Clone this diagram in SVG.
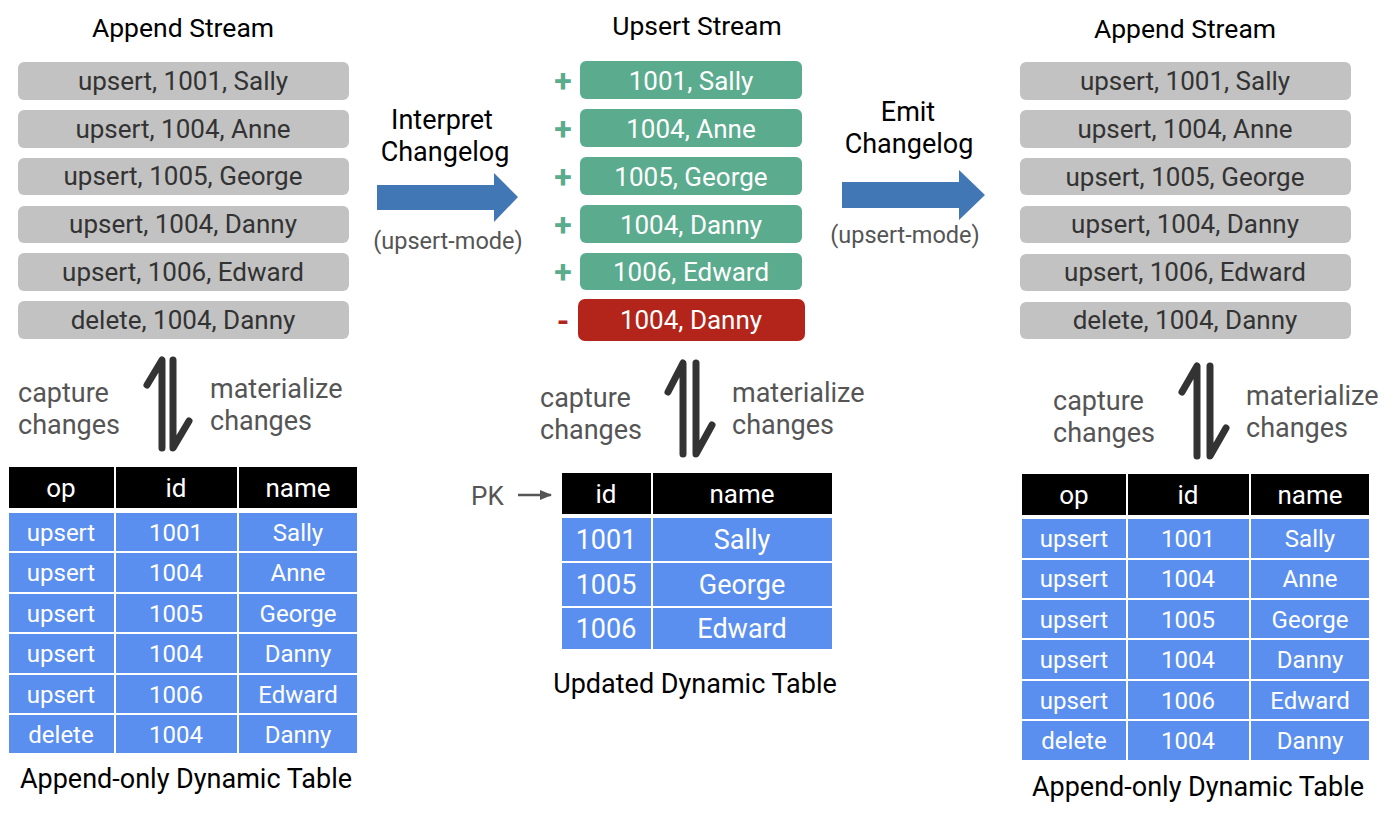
<svg xmlns="http://www.w3.org/2000/svg" width="1400" height="816" viewBox="0 0 1400 816">
<defs>
<style>
text{font-family:Roboto,"Liberation Sans",Arial,sans-serif;text-anchor:middle}
.title{font-size:26.5px;fill:#000}
.gbox{fill:#c2c2c2}
.gtxt{font-size:26px;fill:#333}
.green{fill:#5bab8e}
.red{fill:#b3241a}
.wtxt{font-size:26px;fill:#fff}
.plus{font-size:32px;font-weight:bold;fill:#5bab8e}
.minus{font-size:32px;font-weight:bold;fill:#b3241a}
.lbl{font-size:27px;fill:#000}
.mode{font-size:23.5px;fill:#555}
.side{font-size:27px;fill:#555;text-anchor:start}
.hd{fill:#000}
.cell{fill:#5b8fef}
.htxt{font-size:26px;fill:#fff}
.ctxt{font-size:24px;fill:#fff}
.ctxt2{font-size:27px;fill:#fff}
.cap{font-size:27px;fill:#000}
.icon{fill:none;stroke:#333;stroke-width:7;stroke-linecap:round;stroke-linejoin:round}
.bigarrow{fill:#4077b4}
</style>
<marker id="pk" viewBox="0 0 10 10" refX="9" refY="5" markerWidth="5" markerHeight="5" orient="auto"><path d="M0,1 L10,5 L0,9 z" fill="#555"/></marker>
</defs>

<g id="left-stream">
<text class="title" x="183" y="37">Append Stream</text>
<rect class="gbox" x="18" y="62" width="331" height="38" rx="6"/><text class="gtxt" x="183" y="90">upsert, 1001, Sally</text>
<rect class="gbox" x="18" y="110" width="331" height="38" rx="6"/><text class="gtxt" x="183" y="138">upsert, 1004, Anne</text>
<rect class="gbox" x="18" y="158" width="331" height="37" rx="6"/><text class="gtxt" x="183" y="185">upsert, 1005, George</text>
<rect class="gbox" x="18" y="206" width="331" height="37" rx="6"/><text class="gtxt" x="183" y="233">upsert, 1004, Danny</text>
<rect class="gbox" x="18" y="253" width="331" height="38" rx="6"/><text class="gtxt" x="183" y="281">upsert, 1006, Edward</text>
<rect class="gbox" x="18" y="301" width="331" height="38" rx="6"/><text class="gtxt" x="183" y="329">delete, 1004, Danny</text>
</g>

<g id="interpret-label">
<text class="lbl" x="442" y="129">Interpret</text>
<text class="lbl" x="445" y="161">Changelog</text>
<text class="mode" x="448" y="249">(upsert-mode)</text>
</g>

<g id="upsert-stream">
<text class="title" x="697" y="35">Upsert Stream</text>
<text class="plus" x="563" y="92">+</text>
<rect class="green" x="580" y="61" width="222" height="38" rx="6"/><text class="wtxt" x="691" y="90">1001, Sally</text>
<text class="plus" x="563" y="140">+</text>
<rect class="green" x="580" y="109" width="222" height="38" rx="6"/><text class="wtxt" x="691" y="138">1004, Anne</text>
<text class="plus" x="563" y="188">+</text>
<rect class="green" x="580" y="157" width="222" height="38" rx="6"/><text class="wtxt" x="691" y="186">1005, George</text>
<text class="plus" x="563" y="236">+</text>
<rect class="green" x="580" y="205" width="222" height="38" rx="6"/><text class="wtxt" x="691" y="234">1004, Danny</text>
<text class="plus" x="563" y="283">+</text>
<rect class="green" x="580" y="253" width="222" height="37" rx="6"/><text class="wtxt" x="691" y="281">1006, Edward</text>
<text class="minus" x="563" y="332">-</text>
<rect class="red" x="578" y="299" width="227" height="42" rx="7"/><text class="wtxt" x="691" y="329">1004, Danny</text>
</g>

<g id="emit-label">
<text class="lbl" x="908" y="121">Emit</text>
<text class="lbl" x="909" y="153">Changelog</text>
<text class="mode" x="905" y="243">(upsert-mode)</text>
</g>

<g id="right-stream">
<text class="title" x="1185" y="38">Append Stream</text>
<rect class="gbox" x="1020" y="62" width="331" height="38" rx="6"/><text class="gtxt" x="1185" y="90">upsert, 1001, Sally</text>
<rect class="gbox" x="1020" y="110" width="331" height="38" rx="6"/><text class="gtxt" x="1185" y="138">upsert, 1004, Anne</text>
<rect class="gbox" x="1020" y="158" width="331" height="37" rx="6"/><text class="gtxt" x="1185" y="186">upsert, 1005, George</text>
<rect class="gbox" x="1020" y="206" width="331" height="37" rx="6"/><text class="gtxt" x="1185" y="233">upsert, 1004, Danny</text>
<rect class="gbox" x="1020" y="254" width="331" height="37" rx="6"/><text class="gtxt" x="1185" y="281">upsert, 1006, Edward</text>
<rect class="gbox" x="1020" y="302" width="331" height="37" rx="6"/><text class="gtxt" x="1185" y="329">delete, 1004, Danny</text>
</g>

<g id="left-labels">
<text class="side" x="18" y="402">capture</text>
<text class="side" x="18" y="434">changes</text>
<text class="side" x="210" y="398">materialize</text>
<text class="side" x="210" y="430">changes</text>
</g>

<g id="mid-labels">
<text class="side" x="540" y="407">capture</text>
<text class="side" x="540" y="439">changes</text>
<text class="side" x="732" y="402">materialize</text>
<text class="side" x="732" y="434">changes</text>
<text class="side" x="471" y="505" style="font-size:26px">PK</text>
</g>

<g id="right-labels">
<text class="side" x="1053" y="410">capture</text>
<text class="side" x="1053" y="442">changes</text>
<text class="side" x="1246" y="405">materialize</text>
<text class="side" x="1246" y="437">changes</text>
</g>

<g id="left-table">
<rect class="hd" x="9" y="467" width="105" height="41"/><text class="htxt" x="61" y="497">op</text>
<rect class="hd" x="116" y="467" width="121" height="41"/><text class="htxt" x="176" y="497">id</text>
<rect class="hd" x="239" y="467" width="118" height="41"/><text class="htxt" x="298" y="497">name</text>
<rect class="cell" x="9" y="513" width="105" height="38"/><rect class="cell" x="116" y="513" width="121" height="38"/><rect class="cell" x="239" y="513" width="118" height="38"/>
<text class="ctxt" x="61" y="541">upsert</text><text class="ctxt" x="176" y="541">1001</text><text class="ctxt" x="298" y="541">Sally</text>
<rect class="cell" x="9" y="553" width="105" height="39"/><rect class="cell" x="116" y="553" width="121" height="39"/><rect class="cell" x="239" y="553" width="118" height="39"/>
<text class="ctxt" x="61" y="581">upsert</text><text class="ctxt" x="176" y="581">1004</text><text class="ctxt" x="298" y="581">Anne</text>
<rect class="cell" x="9" y="594" width="105" height="38"/><rect class="cell" x="116" y="594" width="121" height="38"/><rect class="cell" x="239" y="594" width="118" height="38"/>
<text class="ctxt" x="61" y="622">upsert</text><text class="ctxt" x="176" y="622">1005</text><text class="ctxt" x="298" y="622">George</text>
<rect class="cell" x="9" y="634" width="105" height="39"/><rect class="cell" x="116" y="634" width="121" height="39"/><rect class="cell" x="239" y="634" width="118" height="39"/>
<text class="ctxt" x="61" y="662">upsert</text><text class="ctxt" x="176" y="662">1004</text><text class="ctxt" x="298" y="662">Danny</text>
<rect class="cell" x="9" y="675" width="105" height="38"/><rect class="cell" x="116" y="675" width="121" height="38"/><rect class="cell" x="239" y="675" width="118" height="38"/>
<text class="ctxt" x="61" y="703">upsert</text><text class="ctxt" x="176" y="703">1006</text><text class="ctxt" x="298" y="703">Edward</text>
<rect class="cell" x="9" y="715" width="105" height="38"/><rect class="cell" x="116" y="715" width="121" height="38"/><rect class="cell" x="239" y="715" width="118" height="38"/>
<text class="ctxt" x="61" y="743">delete</text><text class="ctxt" x="176" y="743">1004</text><text class="ctxt" x="298" y="743">Danny</text>
<text class="cap" x="186" y="788">Append-only Dynamic Table</text>
</g>

<g id="mid-table">
<rect class="hd" x="562" y="473" width="89" height="41"/><text class="htxt" x="606" y="503">id</text>
<rect class="hd" x="653" y="473" width="179" height="41"/><text class="htxt" x="742" y="503">name</text>
<rect class="cell" x="562" y="518" width="89" height="43"/><rect class="cell" x="653" y="518" width="179" height="43"/>
<text class="ctxt2" x="606" y="549">1001</text><text class="ctxt2" x="742" y="549">Sally</text>
<rect class="cell" x="562" y="563" width="89" height="43"/><rect class="cell" x="653" y="563" width="179" height="43"/>
<text class="ctxt2" x="606" y="594">1005</text><text class="ctxt2" x="742" y="594">George</text>
<rect class="cell" x="562" y="608" width="89" height="41"/><rect class="cell" x="653" y="608" width="179" height="41"/>
<text class="ctxt2" x="606" y="638">1006</text><text class="ctxt2" x="742" y="638">Edward</text>
<text class="cap" x="695" y="693">Updated Dynamic Table</text>
</g>

<g id="right-table">
<rect class="hd" x="1022" y="474" width="104" height="41"/><text class="htxt" x="1074" y="504">op</text>
<rect class="hd" x="1128" y="474" width="121" height="41"/><text class="htxt" x="1188" y="504">id</text>
<rect class="hd" x="1251" y="474" width="118" height="41"/><text class="htxt" x="1310" y="504">name</text>
<rect class="cell" x="1022" y="519" width="104" height="39"/><rect class="cell" x="1128" y="519" width="121" height="39"/><rect class="cell" x="1251" y="519" width="118" height="39"/>
<text class="ctxt" x="1074" y="547">upsert</text><text class="ctxt" x="1188" y="547">1001</text><text class="ctxt" x="1310" y="547">Sally</text>
<rect class="cell" x="1022" y="560" width="104" height="38"/><rect class="cell" x="1128" y="560" width="121" height="38"/><rect class="cell" x="1251" y="560" width="118" height="38"/>
<text class="ctxt" x="1074" y="587">upsert</text><text class="ctxt" x="1188" y="587">1004</text><text class="ctxt" x="1310" y="587">Anne</text>
<rect class="cell" x="1022" y="600" width="104" height="38"/><rect class="cell" x="1128" y="600" width="121" height="38"/><rect class="cell" x="1251" y="600" width="118" height="38"/>
<text class="ctxt" x="1074" y="628">upsert</text><text class="ctxt" x="1188" y="628">1005</text><text class="ctxt" x="1310" y="628">George</text>
<rect class="cell" x="1022" y="640" width="104" height="39"/><rect class="cell" x="1128" y="640" width="121" height="39"/><rect class="cell" x="1251" y="640" width="118" height="39"/>
<text class="ctxt" x="1074" y="668">upsert</text><text class="ctxt" x="1188" y="668">1004</text><text class="ctxt" x="1310" y="668">Danny</text>
<rect class="cell" x="1022" y="681" width="104" height="38"/><rect class="cell" x="1128" y="681" width="121" height="38"/><rect class="cell" x="1251" y="681" width="118" height="38"/>
<text class="ctxt" x="1074" y="709">upsert</text><text class="ctxt" x="1188" y="709">1006</text><text class="ctxt" x="1310" y="709">Edward</text>
<rect class="cell" x="1022" y="721" width="104" height="39"/><rect class="cell" x="1128" y="721" width="121" height="39"/><rect class="cell" x="1251" y="721" width="118" height="39"/>
<text class="ctxt" x="1074" y="749">delete</text><text class="ctxt" x="1188" y="749">1004</text><text class="ctxt" x="1310" y="749">Danny</text>
<text class="cap" x="1198" y="796">Append-only Dynamic Table</text>
</g>

<g id="connectors">
<path class="bigarrow" d="M377,185 L494,185 L494,173 L518,197 L494,222 L494,210 L377,210 Z"/>
<path class="bigarrow" d="M842,182 L959,182 L959,170 L985,195 L959,220 L959,208 L842,208 Z"/>
<path class="icon" d="M147,385 L162,360 L162,448 M173,360 L173,448 L189,421"/>
<path class="icon" d="M668,392 L683,363 L683,454 M696,363 L696,454 L712,425"/>
<path class="icon" d="M1182,392 L1197,366 L1197,456 M1210,366 L1210,456 L1226,428"/>
<line x1="518" y1="495" x2="551" y2="495" stroke="#555" stroke-width="2.5" marker-end="url(#pk)"/>
</g>
</svg>
